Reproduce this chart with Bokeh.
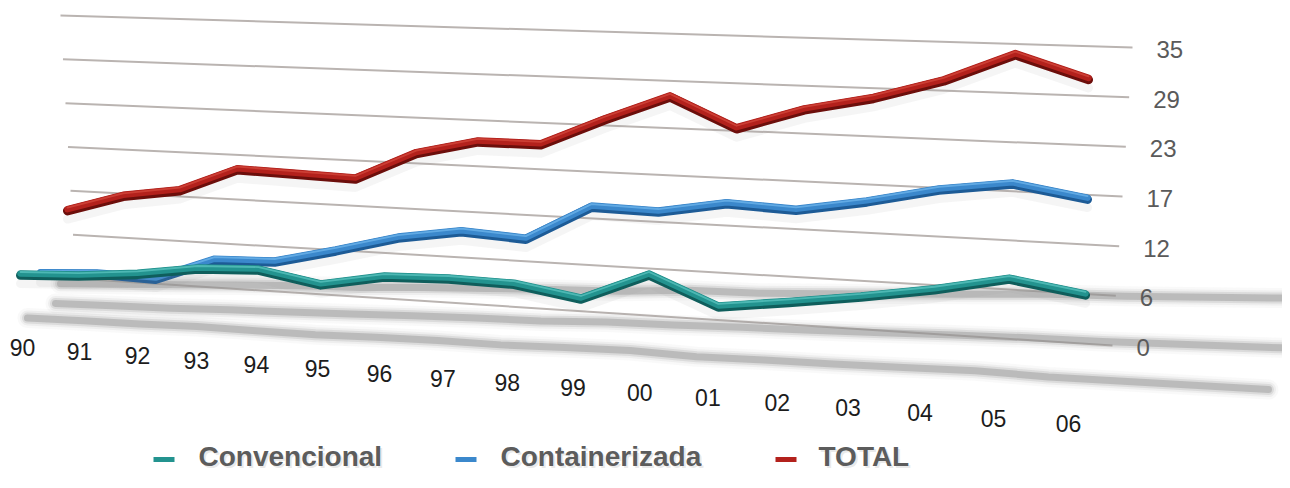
import numpy as np
from bokeh.plotting import figure
from bokeh.models import Range1d
from bokeh.core.properties import value
from bokeh.embed import file_html
from bokeh.resources import INLINE

# ---------------- data ----------------
years = ["90", "91", "92", "93", "94", "95", "96", "97", "98", "99",
         "00", "01", "02", "03", "04", "05", "06"]
convencional = [7.85, 7.75, 8.0, 8.7, 8.6, 6.8, 7.8, 7.6, 7.0, 5.25,
                8.2, 4.4, 5.0, 5.7, 6.6, 7.9, 6.1]
containerizada = [8.0, 8.0, 7.4, 9.8, 9.6, 11.0, 12.6, 13.4, 12.5, 16.4,
                  15.8, 16.8, 16.0, 17.0, 18.4, 19.1, 17.3]
total = [16.0, 17.8, 18.5, 21.1, 20.5, 19.9, 23.0, 24.4, 24.0, 27.0,
         29.7, 25.8, 28.0, 29.3, 31.3, 34.3, 31.3]
tick_labels = ["0", "6", "12", "17", "23", "29", "35"]
tick_values = [35.0 * k / 6 for k in range(7)]
series_names = ["Convencional", "Containerizada", "TOTAL"]

# ---------------- perspective helpers (style) ----------------
VMAX = 35.0
n = len(years)
s_lin = np.arange(n) / (n - 1)
u = 0.864 * s_lin / (1 - 0.136 * s_lin)      # perspective spacing along x


def front_xy(vals, x0, x1):
    v = np.asarray(vals, dtype=float)
    x = x0 + (x1 - x0) * u
    y = (335 + 10 * u) - v * (7.9 + 0.65 * u)
    return x, y


def shadow_path(x, vals, dx, ya, yb, k, xend):
    v = np.asarray(vals, dtype=float)
    xs = x + dx
    coef = np.polyfit(xs, v, 1)
    dev = v - np.polyval(coef, xs)
    xa, xb = xs[0], xend
    base = ya + (yb - ya) * (xs - xa) / (xb - xa)
    ys = base - k * dev
    return list(xs) + [xend], list(ys) + [yb - k * dev[-1]]


p = figure(width=1282, height=480, x_range=Range1d(0, 1282), y_range=Range1d(480, 0),
           output_backend="svg", toolbar_location=None, min_border=0,
           background_fill_color="white", border_fill_color="white")
p.axis.visible = False
p.grid.visible = False
p.outline_line_color = None

# ---------------- gridlines ----------------
gx, gy = [], []
for tv in tick_values:
    f = tv / VMAX
    gx.append([75 - 15 * f, 1112 + 20 * f])
    gy.append([278 - 263 * f, 345 - 298 * f])
p.multi_line(gx, gy, line_color="#bab4b1", line_width=2)

# ---------------- series geometry ----------------
teal = dict(main="#23938f", dark="#0f5e5c", light="#58c2bd")
blue = dict(main="#3b88cc", dark="#1d5b96", light="#6cb3ea")
red = dict(main="#b3211c", dark="#6c0e0b", light="#d2463b")

xt, yt = front_xy(convencional, 20, 1085)
xb, yb = front_xy(containerizada, 40, 1087)
xr, yr = front_xy(total, 67, 1088)

# ---------------- floor shadows ----------------
shadows = [
    shadow_path(xr, total, -40, 317, 388, 0.5, 1268),
    shadow_path(xb, containerizada, 15, 303, 347, 0.4, 1300),
    shadow_path(xt, convencional, 40, 283, 298, 0.6, 1300),
]
for sx, sy in shadows:
    for w, a in [(20, 0.05), (15, 0.10), (11, 0.20), (7, 0.42)]:
        p.line(sx, sy, line_color="#8f8f8f", line_width=w, line_alpha=a,
               line_cap="round", line_join="round")

# ---------------- y labels ----------------
ylx = [1112 + 20 * tv / VMAX + 24 for tv in tick_values]
yly = [345 - 298 * tv / VMAX + 2 for tv in tick_values]
p.text(ylx, yly, text=tick_labels, text_font=value("Liberation Sans"),
       text_font_size="24px", text_color="#5a5a5a", text_align="left",
       text_baseline="middle")

# ---------------- x labels ----------------
xlx = list(22 + 1046 * u)
xly = list(347 + 76 * u)
p.text(xlx, xly, text=years, text_font=value("Liberation Sans"),
       text_font_size="23px", text_color="#1c1c1c", text_align="center",
       text_baseline="middle")


# ---------------- ribbons ----------------
def ribbon(x, y, c):
    y = np.asarray(y)
    p.line(x, y + 10, line_color="#999999", line_width=9, line_alpha=0.10,
           line_join="round", line_cap="round")
    p.line(x, y + 1.8, line_color=c["dark"], line_width=9,
           line_join="round", line_cap="round")
    p.line(x, y, line_color=c["main"], line_width=6.5,
           line_join="round", line_cap="round")
    p.line(x, y - 1.5, line_color=c["light"], line_width=1.8, line_alpha=0.8,
           line_join="round", line_cap="round")


ribbon(xr, yr, red)
ribbon(xb, yb, blue)
ribbon(xt, yt, teal)

# ---------------- legend ----------------
LEG_Y = 456
leg_x = [153, 455, 775]
leg_tx = [198, 500, 818]
leg_cols = [teal["main"], blue["main"], red["main"]]
for lx, tx, col, name in zip(leg_x, leg_tx, leg_cols, series_names):
    p.line([lx, lx + 21], [LEG_Y + 3, LEG_Y + 3], line_color=col, line_width=5)
    p.text([tx + 2], [LEG_Y + 2], text=[name], text_font=value("Liberation Sans"),
           text_font_size="28px", text_font_style="bold", text_color="#cfcfcf",
           text_alpha=0.45, text_align="left", text_baseline="middle")
    p.text([tx], [LEG_Y], text=[name], text_font=value("Liberation Sans"),
           text_font_size="28px", text_font_style="bold", text_color="#5c5c5c",
           text_align="left", text_baseline="middle")

open("out.html", "w").write(file_html(p, INLINE))
